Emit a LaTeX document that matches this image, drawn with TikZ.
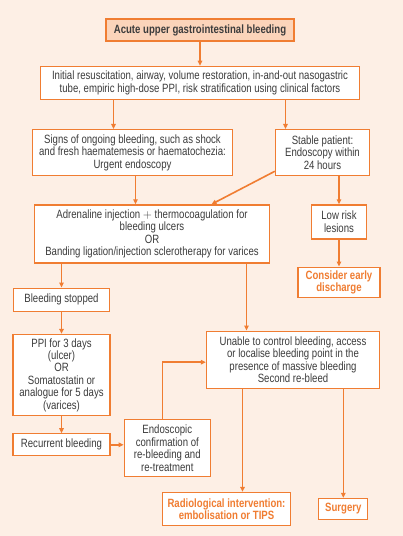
\documentclass[tikz,border=0pt]{standalone}
\usepackage{fontspec}
\setmainfont{Liberation Sans}[FakeStretch=0.8]
\usepackage{tikz}
\usetikzlibrary{arrows.meta, positioning, calc}

\definecolor{flowOrange}{HTML}{F07D32}
\definecolor{flowBack}{HTML}{FDEFE5}
\definecolor{flowHead}{HTML}{FBD4BA}
\definecolor{flowText}{HTML}{3C3C3C}

\begin{document}
\begin{tikzpicture}[x=1pt, y=-1pt,
    box/.style={draw=flowOrange, fill=white, line width=1.3pt, rectangle, align=center, inner sep=2pt,
        text=flowText, font=\fontsize{12}{12.4}\selectfont},
    headbox/.style={box, fill=flowHead, font=\fontsize{12}{12.4}\selectfont\bfseries},
    endbox/.style={box, text=flowOrange, font=\fontsize{12}{12.4}\selectfont\bfseries},
    arrow/.style={-{Triangle[length=5pt, width=4.5pt]}, draw=flowOrange, line width=1.6pt}
]
    \fill[flowBack] (0,0) rectangle (403,536);
    \useasboundingbox (0,0) rectangle (403,536);

    \node[headbox, minimum width=188pt, minimum height=22pt] at (200,30) (top) {Acute upper gastrointestinal bleeding};
    \node[box, below=24pt of top, minimum width=319pt, minimum height=33pt] (init)
        {Initial resuscitation, airway, volume restoration, in-and-out nasogastric\\
         tube, empiric high-dose PPI, risk stratification using clinical factors};
    \node[box, below=29pt of init, xshift=-67.5pt, minimum width=200pt, minimum height=46pt] (signs)
        {Signs of ongoing bleeding, such as shock\\ and fresh haematemesis or haematochezia:\\ Urgent endoscopy};
    \node[box, below=29pt of init, xshift=122.5pt, minimum width=94pt, minimum height=46pt] (stable)
        {Stable patient:\\ Endoscopy within\\ 24 hours};
    \node[box, below=28pt of signs, xshift=19.5pt, minimum width=235pt, minimum height=58pt] (adren)
        {Adrenaline injection $+$ thermocoagulation for\\ bleeding ulcers\\ OR\\ Banding ligation/injection sclerotherapy for varices};
    \node[box, below=28pt of stable, xshift=16.5pt, minimum width=55pt, minimum height=34pt] (lowrisk)
        {Low risk\\ lesions};
    \node[endbox, below=27pt of lowrisk, minimum width=82pt, minimum height=30pt] (discharge)
        {Consider early\\ discharge};
    \node[box, below=24pt of adren, xshift=-90.5pt, minimum width=96pt, minimum height=23pt] (stopped)
        {Bleeding stopped};
    \node[box, below=22pt of stopped, minimum width=97pt, minimum height=81pt] (ppi)
        {PPI for 3 days\\ (ulcer)\\ OR\\ Somatostatin or\\ analogue for 5 days\\ (varices)};
    \node[box, below=17pt of ppi, minimum width=97pt, minimum height=22pt] (recur)
        {Recurrent bleeding};
    \node[box, right=13pt of recur, yshift=-3.5pt, minimum width=86pt, minimum height=57pt] (confirm)
        {Endoscopic\\ confirmation of\\ re-bleeding and\\ re-treatment};
    \node[box, below=67pt of adren, xshift=141pt, minimum width=173pt, minimum height=57pt] (unable)
        {Unable to control bleeding, access\\ or localise bleeding point in the\\ presence of massive bleeding\\ Second re-bleed};
    \node[endbox, below=103pt of unable, xshift=-66.5pt, minimum width=128pt, minimum height=33pt] (radio)
        {Radiological intervention:\\ embolisation or TIPS};
    \node[endbox, right=27pt of radio, minimum width=49pt, minimum height=21pt] (surgery)
        {Surgery};

    \draw[arrow] (top) -- (init);
    \draw[arrow] ([xshift=-19pt]signs.north |- init.south) -- ([xshift=-19pt]signs.north);
    \draw[arrow] ([xshift=-37pt]stable.north |- init.south) -- ([xshift=-37pt]stable.north);
    \draw[arrow] ([xshift=3pt]signs.south) -- ([xshift=3pt]signs.south |- adren.north);
    \draw[arrow] ([yshift=5pt]stable.south west) -- ([xshift=59.5pt]adren.north);
    \draw[arrow] (lowrisk.north |- stable.south) -- (lowrisk.north);
    \draw[arrow] (lowrisk) -- (discharge);
    \draw[arrow] (stopped.north |- adren.south) -- (stopped.north);
    \draw[arrow] ([xshift=-46.5pt]unable.north |- adren.south) -- ([xshift=-46.5pt]unable.north);
    \draw[arrow] (stopped) -- (ppi);
    \draw[arrow] (ppi) -- (recur);
    \draw[arrow] (recur) -- (recur -| confirm.west);
    \draw[arrow] ([xshift=-5pt]confirm.north) |- ([yshift=-2.5pt]unable.west);
    \draw[arrow] ([xshift=-50.5pt]unable.south) -- ([xshift=-50.5pt]unable.south |- radio.north);
    \draw[arrow] (surgery.north |- unable.south) -- (surgery.north);
\end{tikzpicture}
\end{document}
